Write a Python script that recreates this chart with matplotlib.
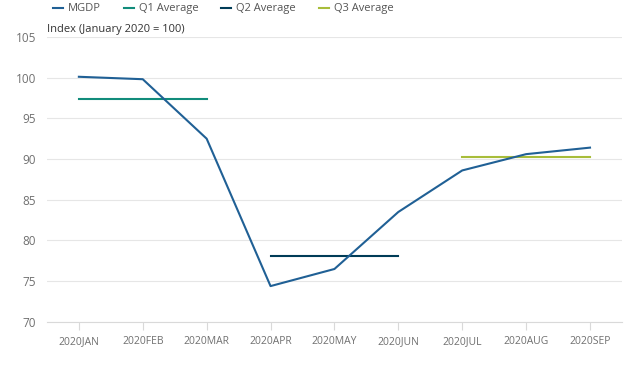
import matplotlib.pyplot as plt

plt.rcParams['font.family'] = ['Open Sans', 'DejaVu Sans']

months = ['2020JAN', '2020FEB', '2020MAR', '2020APR', '2020MAY',
          '2020JUN', '2020JUL', '2020AUG', '2020SEP']
mgdp = [100.1, 99.8, 92.5, 74.4, 76.5, 83.5, 88.6, 90.6, 91.4]
q1_avg = 97.4
q2_avg = 78.1
q3_avg = 90.2

fig = plt.figure(figsize=(6.34, 3.65), dpi=100)
ax = fig.add_axes([0.074, 0.118, 0.907, 0.781])

x = range(len(months))
ax.plot(x, mgdp, color='#206095', lw=1.5, label='MGDP', zorder=3)
ax.plot([0, 2], [q1_avg, q1_avg], color='#118C7B', lw=1.5, label='Q1 Average', zorder=2)
ax.plot([3, 5], [q2_avg, q2_avg], color='#003C57', lw=1.5, label='Q2 Average', zorder=2)
ax.plot([6, 8], [q3_avg, q3_avg], color='#A8BD3A', lw=1.5, label='Q3 Average', zorder=2)

ax.set_xlim(-0.5, len(months) - 0.5)
ax.set_ylim(70, 105)
ax.set_yticks(range(70, 106, 5))
ax.set_xticks(list(x))
ax.set_xticklabels(months)

ax.grid(axis='y', color='#e6e6e6', lw=0.8)
ax.set_axisbelow(True)
for s in ['top', 'right', 'left']:
    ax.spines[s].set_visible(False)
ax.spines['bottom'].set_color('#d9d9d9')
ax.tick_params(axis='y', length=0, colors='#707070', labelsize=8.5, pad=8)
ax.tick_params(axis='x', length=6, color='#d9d9d9', colors='#707070', labelsize=7.5, pad=4)

fig.text(0.074, 0.905, 'Index (January 2020 = 100)', fontsize=8, color='#333333',
         va='bottom')
fig.legend(loc='upper left', bbox_to_anchor=(0.068, 1.018), ncol=4, frameon=False,
           fontsize=8, handlelength=0.9, columnspacing=2.05, handletextpad=0.45,
           labelcolor='#555555')

plt.savefig('out.png', dpi=100)
